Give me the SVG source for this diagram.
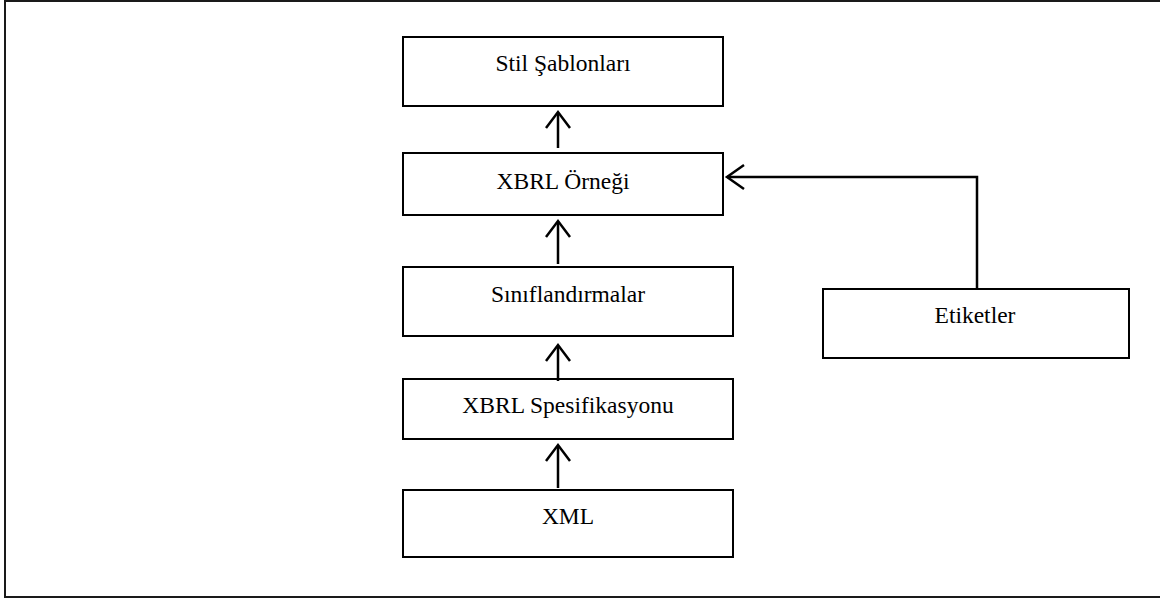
<svg xmlns="http://www.w3.org/2000/svg" width="1160" height="601" viewBox="0 0 1160 601">
  <defs>
    <style>
      .frame { fill: #ffffff; stroke: #1a1a1a; stroke-width: 2; }
      .box { fill: #ffffff; stroke: #000000; stroke-width: 2; }
      .label { font-family: "Liberation Serif", "Times New Roman", serif; font-size: 23.5px; fill: #000000; text-anchor: middle; }
      .link { fill: none; stroke: #000000; stroke-width: 2.5; }
      .head { fill: none; stroke: #000000; stroke-width: 2.5; stroke-linecap: butt; stroke-linejoin: miter; }
    </style>
  </defs>

  <!-- outer frame (right side runs past the page edge) -->
  <rect class="frame" x="5" y="1" width="1165" height="596"/>

  <!-- stack of layers -->
  <g id="node-stil">
    <rect class="box" x="403" y="37" width="320" height="69"/>
    <text class="label" x="563" y="71">Stil Şablonları</text>
  </g>
  <g id="node-ornek">
    <rect class="box" x="403" y="153" width="320" height="62"/>
    <text class="label" x="563" y="189">XBRL Örneği</text>
  </g>
  <g id="node-siniflandirma">
    <rect class="box" x="403" y="267" width="330" height="69"/>
    <text class="label" x="568" y="302">Sınıflandırmalar</text>
  </g>
  <g id="node-spesifikasyon">
    <rect class="box" x="403" y="379" width="330" height="60"/>
    <text class="label" x="568" y="413">XBRL Spesifikasyonu</text>
  </g>
  <g id="node-xml">
    <rect class="box" x="403" y="490" width="330" height="67"/>
    <text class="label" x="568" y="524">XML</text>
  </g>
  <g id="node-etiketler">
    <rect class="box" x="823" y="289" width="306" height="69"/>
    <text class="label" x="975" y="323">Etiketler</text>
  </g>

  <!-- connectors with open arrowheads -->
  <g id="connectors">
    <line class="link" x1="558" y1="148" x2="558" y2="113"/>
    <polyline class="head" points="546,128 558,112 570,128"/>

    <line class="link" x1="558" y1="264" x2="558" y2="222"/>
    <polyline class="head" points="546,237 558,221 570,237"/>

    <line class="link" x1="558" y1="381" x2="558" y2="346"/>
    <polyline class="head" points="546,361 558,345 570,361"/>

    <line class="link" x1="558" y1="488" x2="558" y2="446"/>
    <polyline class="head" points="546,461 558,445 570,461"/>

    <polyline class="link" points="977,289 977,177 727,177"/>
    <polyline class="head" points="744,165 727,177 744,189"/>
  </g>
</svg>
